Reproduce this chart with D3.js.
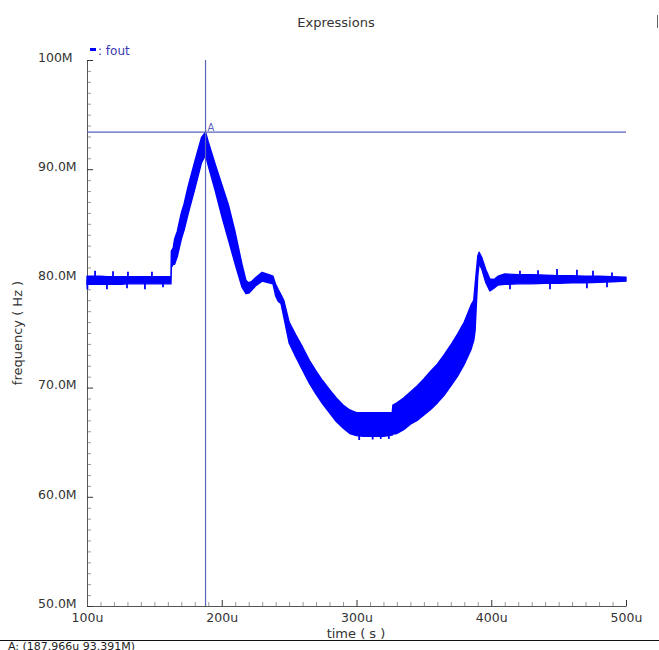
<!DOCTYPE html>
<html>
<head>
<meta charset="utf-8">
<script src="https://cdn.jsdelivr.net/npm/d3@7"></script>
<style>
  html, body { margin: 0; padding: 0; background: #fff; }
  svg { display: block; }
  text { font-family: "DejaVu Sans", sans-serif; fill: #333; }
</style>
</head>
<body>
<svg id="chart" width="659" height="650"></svg>
<script>
// ---- data ----
const times  = [100,105,110,115,120,125,130,135,140,145,150,155,160,162.3,162.6,164,165,167,170,172,175,180,185,187.966,190,195,200,205,210,215,218,220,222,225,230,235,238,240,242,244,246,250,255,260,265,270,275,280,285,290,295,300,305,310,315,320,326.5,327,330,335,340,345,350,355,360,365,370,375,380,385,387,388,390,391,393,396,399,402,405,410,420,430,440,450,460,470,480,490,500];
const upperF = [80.2,80.2,80.2,80.15,80.15,80.15,80.15,80.15,80.15,80.15,80.15,80.15,80.15,80.15,82.5,82.8,83.6,84.3,86.0,86.8,88.4,90.7,92.9,93.391,92.5,90.5,88.6,86.7,84.2,81.3,79.8,79.6,79.7,80.05,80.55,80.35,80.2,79.45,78.95,78.5,78.0,76.0,74.8,73.7,72.5,71.5,70.6,69.8,69.05,68.4,67.95,67.7,67.7,67.7,67.7,67.7,67.7,68.4,68.6,69.05,69.6,70.15,70.8,71.5,72.15,73.0,73.9,74.9,76.0,77.55,78.0,79.4,82.05,82.4,81.9,80.8,79.95,79.9,80.2,80.4,80.35,80.35,80.3,80.25,80.25,80.2,80.2,80.15,80.1];
const lowerF = [79.45,79.45,79.45,79.45,79.45,79.45,79.5,79.5,79.5,79.5,79.5,79.5,79.5,79.5,81.0,81.3,81.3,82.0,83.6,84.4,85.9,88.2,90.6,91.3,90.3,88.1,85.7,83.5,81.3,79.2,78.6,78.65,78.9,79.3,79.75,79.6,79.5,78.4,77.9,77.7,76.5,74.1,72.8,71.6,70.4,69.4,68.5,67.7,66.9,66.3,65.8,65.6,65.55,65.55,65.55,65.55,65.65,65.75,65.8,66.15,66.65,67.0,67.5,68.0,68.6,69.3,70.15,71.05,72.15,73.5,74.3,75.2,80.2,81.4,80.85,79.6,78.85,79.1,79.4,79.45,79.5,79.5,79.55,79.55,79.6,79.6,79.65,79.7,79.75];
// isolated glitches of the trace
const spikeT = [100.3,106,114.8,119.3,129.7,130.4,143,148.2,156.4,302,312,318,324,413.9,421.3,434.7,443.6,448.8,463.6,471,475.5,485.9,489.6];
const spikeF = [79.0,80.7,79.0,80.65,79.1,80.6,79.0,80.6,79.2,65.2,65.25,65.3,65.3,79.0,80.7,80.75,79.0,80.85,80.8,79.1,80.7,79.2,80.55];
// cursor A
const cursorT = 187.966, cursorF = 93.391;
// axis ticks
const xMajor = [100,200,300,400,500];
const xLabels = ["100u","200u","300u","400u","500u"];
const yMajor = [50,60,70,80,90,100];
const yLabels = ["50.0M","60.0M","70.0M","80.0M","90.0M","100M"];

// ---- layout ----
const svg = d3.select("#chart");
const x = d3.scaleLinear().domain([100,500]).range([87,626]);
const y = d3.scaleLinear().domain([50,100]).range([606,60]);
const traceColor = "#0000ff";
const cursorColor = "#5a64b8";

// title
svg.append("text").attr("x",336).attr("y",27).attr("text-anchor","middle")
  .style("font-size","13px").text("Expressions");
svg.append("line").attr("x1",657.5).attr("x2",657.5).attr("y1",15).attr("y2",28)
  .attr("stroke","#666").attr("stroke-width",1);

// legend
svg.append("rect").attr("x",90).attr("y",48).attr("width",6).attr("height",3).attr("fill",traceColor);
svg.append("text").attr("x",98).attr("y",55).style("font-size","12px").style("fill","#3a3ab0").text(": fout");

// minor ticks
const xMinor = d3.range(100,501,10).filter(v => !xMajor.includes(v));
const yMinor = d3.range(50,101,1).filter(v => !yMajor.includes(v));

const gxMinor = svg.append("g").attr("transform","translate(0,606)")
  .call(d3.axisBottom(x).tickValues(xMinor).tickSize(-4).tickSizeOuter(0).tickFormat(""));
gxMinor.select(".domain").remove();
gxMinor.selectAll("line").attr("stroke","#999");

const gyMinor = svg.append("g").attr("transform","translate(87,0)")
  .call(d3.axisLeft(y).tickValues(yMinor).tickSize(-4).tickSizeOuter(0).tickFormat(""));
gyMinor.select(".domain").remove();
gyMinor.selectAll("line").attr("stroke","#999");

// major axes
const gx = svg.append("g").attr("transform","translate(0,606)")
  .call(d3.axisBottom(x).tickValues(xMajor).tickSize(-6).tickSizeOuter(0)
    .tickFormat((d,i) => xLabels[i]));
gx.select(".domain").attr("stroke","#555");
gx.selectAll("line").attr("stroke","#333");
gx.selectAll("text").attr("y",7).style("font-size","12.5px").style("fill","#333")
  .style("font-family","DejaVu Sans, sans-serif");

const gy = svg.append("g").attr("transform","translate(87,0)")
  .call(d3.axisLeft(y).tickValues(yMajor).tickSize(-6).tickSizeOuter(0)
    .tickFormat((d,i) => yLabels[i]));
gy.select(".domain").attr("stroke","#555");
gy.selectAll("line").attr("stroke","#333");
gy.selectAll("text").attr("x",-49).attr("dy","0.1em").attr("text-anchor","start")
  .style("font-size","12.5px").style("fill","#333").style("font-family","DejaVu Sans, sans-serif");

// axis titles
svg.append("text").attr("x",356).attr("y",638).attr("text-anchor","middle")
  .style("font-size","13px").text("time ( s )");
svg.append("text").attr("transform","translate(22,333) rotate(-90)").attr("text-anchor","middle")
  .style("font-size","13px").text("frequency ( Hz )");

// trace band
const pts = times.map((t,i) => ({t, u: upperF[i], l: lowerF[i]}));
const area = d3.area().x(d => x(d.t)).y0(d => y(d.l)).y1(d => y(d.u));
svg.append("path").datum(pts).attr("d",area)
  .attr("fill",traceColor).attr("stroke",traceColor).attr("stroke-width",1.4)
  .attr("stroke-linejoin","round");

// glitches
const mid = t => {
  const i = d3.bisectLeft(times, t);
  const j = Math.max(1, Math.min(times.length-1, i));
  const a = (t - times[j-1]) / (times[j]-times[j-1]);
  const u = upperF[j-1] + a*(upperF[j]-upperF[j-1]);
  const l = lowerF[j-1] + a*(lowerF[j]-lowerF[j-1]);
  return (u+l)/2;
};
svg.append("g").selectAll("line").data(spikeT).join("line")
  .attr("x1",d => x(d)).attr("x2",d => x(d))
  .attr("y1",d => y(mid(d))).attr("y2",(d,i) => y(spikeF[i]))
  .attr("stroke",traceColor).attr("stroke-width",1.8);

// cursor
svg.append("line").attr("x1",x(cursorT)).attr("x2",x(cursorT)).attr("y1",60).attr("y2",606)
  .attr("stroke",cursorColor).attr("stroke-width",1.2);
svg.append("line").attr("x1",87).attr("x2",626).attr("y1",y(cursorF)).attr("y2",y(cursorF))
  .attr("stroke",cursorColor).attr("stroke-width",1.2);
svg.append("text").attr("x",x(cursorT)+2).attr("y",y(cursorF)-1)
  .style("font-size","10px").style("fill",cursorColor).text("A");

// status line
svg.append("line").attr("x1",0).attr("x2",659).attr("y1",640.5).attr("y2",640.5)
  .attr("stroke","#111").attr("stroke-width",1);
svg.append("text").attr("x",8).attr("y",650).style("font-size","11px").style("fill","#222")
  .text("A: (" + cursorT + "u " + cursorF + "M)");
</script>
</body>
</html>
